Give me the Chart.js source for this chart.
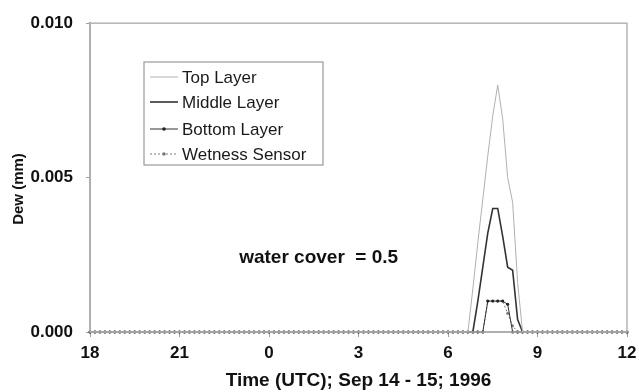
<!DOCTYPE html>
<html>
<head>
<meta charset="utf-8">
<script src="https://cdn.jsdelivr.net/npm/chart.js@4.4.1/dist/chart.umd.min.js"></script>
<style>
  html, body { margin: 0; padding: 0; background: #fff; }
  #wrap { width: 639px; height: 392px; }
</style>
</head>
<body>
<div id="wrap"><canvas id="dewChart" width="639" height="392"></canvas></div>
<script>
// hour labels every 3 h (18 UTC Sep 14 -> 12 UTC Sep 15), data every 10 min
const hourTicks = ["18", "21", "0", "3", "6", "9", "12"];
const stepsPerTick = 18; // 3 h of 10-min samples

// Dew (mm), one value per 10 minutes, 109 samples
const topLayer = [
  0, 0, 0, 0, 0, 0, 0, 0, 0, 0, 0, 0, 0, 0, 0, 0, 0, 0,
  0, 0, 0, 0, 0, 0, 0, 0, 0, 0, 0, 0, 0, 0, 0, 0, 0, 0,
  0, 0, 0, 0, 0, 0, 0, 0, 0, 0, 0, 0, 0, 0, 0, 0, 0, 0,
  0, 0, 0, 0, 0, 0, 0, 0, 0, 0, 0, 0, 0, 0, 0, 0, 0, 0,
  0, 0, 0, 0, 0, 0.0014, 0.0029, 0.0043, 0.0057, 0.0070, 0.0080, 0.0069, 0.0050, 0.0042, 0.0016, 0, 0, 0,
  0, 0, 0, 0, 0, 0, 0, 0, 0, 0, 0, 0, 0, 0, 0, 0, 0, 0,
  0
];
const middleLayer = [
  0, 0, 0, 0, 0, 0, 0, 0, 0, 0, 0, 0, 0, 0, 0, 0, 0, 0,
  0, 0, 0, 0, 0, 0, 0, 0, 0, 0, 0, 0, 0, 0, 0, 0, 0, 0,
  0, 0, 0, 0, 0, 0, 0, 0, 0, 0, 0, 0, 0, 0, 0, 0, 0, 0,
  0, 0, 0, 0, 0, 0, 0, 0, 0, 0, 0, 0, 0, 0, 0, 0, 0, 0,
  0, 0, 0, 0, 0, 0, 0.0010, 0.0021, 0.0032, 0.0040, 0.0040, 0.0031, 0.0021, 0.0020, 0.0004, 0, 0, 0,
  0, 0, 0, 0, 0, 0, 0, 0, 0, 0, 0, 0, 0, 0, 0, 0, 0, 0,
  0
];
const bottomLayer = [
  0, 0, 0, 0, 0, 0, 0, 0, 0, 0, 0, 0, 0, 0, 0, 0, 0, 0,
  0, 0, 0, 0, 0, 0, 0, 0, 0, 0, 0, 0, 0, 0, 0, 0, 0, 0,
  0, 0, 0, 0, 0, 0, 0, 0, 0, 0, 0, 0, 0, 0, 0, 0, 0, 0,
  0, 0, 0, 0, 0, 0, 0, 0, 0, 0, 0, 0, 0, 0, 0, 0, 0, 0,
  0, 0, 0, 0, 0, 0, 0, 0, 0.0010, 0.0010, 0.0010, 0.0010, 0.0009, 0, 0, 0, 0, 0,
  0, 0, 0, 0, 0, 0, 0, 0, 0, 0, 0, 0, 0, 0, 0, 0, 0, 0,
  0
];
const wetnessSensor = [
  0, 0, 0, 0, 0, 0, 0, 0, 0, 0, 0, 0, 0, 0, 0, 0, 0, 0,
  0, 0, 0, 0, 0, 0, 0, 0, 0, 0, 0, 0, 0, 0, 0, 0, 0, 0,
  0, 0, 0, 0, 0, 0, 0, 0, 0, 0, 0, 0, 0, 0, 0, 0, 0, 0,
  0, 0, 0, 0, 0, 0, 0, 0, 0, 0, 0, 0, 0, 0, 0, 0, 0, 0,
  0, 0, 0, 0, 0, 0, 0, 0, 0.0010, 0.0010, 0.0010, 0.0010, 0.0006, 0.0002, 0, 0, 0, 0,
  0, 0, 0, 0, 0, 0, 0, 0, 0, 0, 0, 0, 0, 0, 0, 0, 0, 0,
  0
];

const yTicks = [0, 0.005, 0.010];
const annotationText = "water cover  = 0.5";

const FONT = "'Liberation Sans', Arial, sans-serif";
const axisGray = "#a0a0a0";

// sample index positions on the linear x axis
const sampleIndex = topLayer.map((v, i) => i);

// plot frame, y title, legend box and the annotation
const decorations = {
    id: "decorations",
    afterDraw(chart) {
        const { ctx, chartArea, scales } = chart;
        ctx.save();

        // frame around the plot
        ctx.strokeStyle = "#b4b4b4";
        ctx.lineWidth = 1.5;
        ctx.strokeRect(chartArea.left, chartArea.top, chartArea.right - chartArea.left, chartArea.bottom - chartArea.top);

        // y axis title
        ctx.fillStyle = "#111";
        ctx.font = "bold 15px " + FONT;
        ctx.textAlign = "center";
        ctx.textBaseline = "middle";
        ctx.translate(19, 189);
        ctx.rotate(-Math.PI / 2);
        ctx.fillText("Dew (mm)", 0, 0);
        ctx.setTransform(1, 0, 0, 1, 0, 0);

        // annotation
        ctx.font = "bold 19px " + FONT;
        ctx.textAlign = "left";
        ctx.fillText(annotationText, scales.x.getPixelForValue(30), scales.y.getPixelForValue(0.0024));

        // legend
        const box = { x: 144, y: 62, w: 179, h: 103 };
        ctx.fillStyle = "#fff";
        ctx.fillRect(box.x, box.y, box.w, box.h);
        ctx.strokeStyle = "#9a9a9a";
        ctx.lineWidth = 1.2;
        ctx.strokeRect(box.x, box.y, box.w, box.h);
        const rowY = [77, 102, 129, 154];
        chart.data.datasets.forEach((ds, i) => {
            const y = rowY[i];
            ctx.strokeStyle = ds.borderColor;
            ctx.lineWidth = ds.borderWidth;
            ctx.setLineDash(ds.borderDash || []);
            ctx.beginPath();
            ctx.moveTo(150, y);
            ctx.lineTo(178, y);
            ctx.stroke();
            ctx.setLineDash([]);
            if (ds.pointRadius > 0) {
                ctx.fillStyle = ds.pointBackgroundColor;
                ctx.beginPath();
                ctx.arc(164, y, ds.pointRadius + 0.3, 0, Math.PI * 2);
                ctx.fill();
            }
            ctx.fillStyle = "#1a1a1a";
            ctx.font = "17px " + FONT;
            ctx.textAlign = "left";
            ctx.textBaseline = "middle";
            ctx.fillText(ds.label, 182, y + 1);
        });
        ctx.restore();
    }
};

new Chart(document.getElementById("dewChart"), {
    type: "line",
    data: {
        labels: sampleIndex,
        datasets: [
            {
                label: "Top Layer",
                data: topLayer,
                borderColor: "#b0b0b0",
                borderWidth: 1,
                pointRadius: 0,
                clip: false,
            },
            {
                label: "Middle Layer",
                data: middleLayer,
                borderColor: "#333",
                borderWidth: 1.6,
                pointRadius: 0,
                clip: false,
            },
            {
                label: "Bottom Layer",
                data: bottomLayer,
                borderColor: "#333",
                borderWidth: 1,
                pointRadius: 1.5,
                pointBackgroundColor: "#222",
                pointBorderWidth: 0,
                clip: false,
            },
            {
                label: "Wetness Sensor",
                data: wetnessSensor,
                borderColor: "#7a7a7a",
                borderWidth: 1,
                borderDash: [2, 2],
                pointRadius: 1.4,
                pointBackgroundColor: "#777",
                pointBorderWidth: 0,
                clip: false,
            },
        ],
    },
    options: {
        responsive: false,
        animation: false,
        layout: { padding: { top: 22, right: 12, left: 0, bottom: 0 } },
        plugins: {
            legend: { display: false },
            tooltip: { enabled: false },
        },
        scales: {
            x: {
                type: "linear",
                min: 0,
                max: (hourTicks.length - 1) * stepsPerTick,
                afterFit: (s) => { s.height = 60; s.paddingRight = 0; s.paddingLeft = 0; },
                border: { display: true, color: axisGray, width: 2 },
                grid: { drawOnChartArea: false, tickLength: 5, color: axisGray },
                ticks: {
                    stepSize: stepsPerTick,
                    padding: 6,
                    color: "#111",
                    font: { family: FONT, size: 17, weight: "bold" },
                    callback: (v) => hourTicks[v / stepsPerTick],
                },
                title: {
                    display: true,
                    text: "Time (UTC); Sep 14 - 15; 1996",
                    color: "#111",
                    font: { family: FONT, size: 19, weight: "bold" },
                    padding: { top: 0, bottom: 0 },
                },
            },
            y: {
                min: 0,
                max: 0.010,
                afterFit: (s) => { s.width = 90; },
                afterBuildTicks: (s) => { s.ticks = yTicks.map((v) => ({ value: v })); },
                border: { display: true, color: axisGray, width: 2 },
                grid: { drawOnChartArea: false, tickLength: 4, color: axisGray },
                ticks: {
                    padding: 13,
                    color: "#111",
                    font: { family: FONT, size: 17, weight: "bold" },
                    callback: (v) => v.toFixed(3),
                },
            },
        },
    },
    plugins: [decorations],
});
</script>
</body>
</html>
